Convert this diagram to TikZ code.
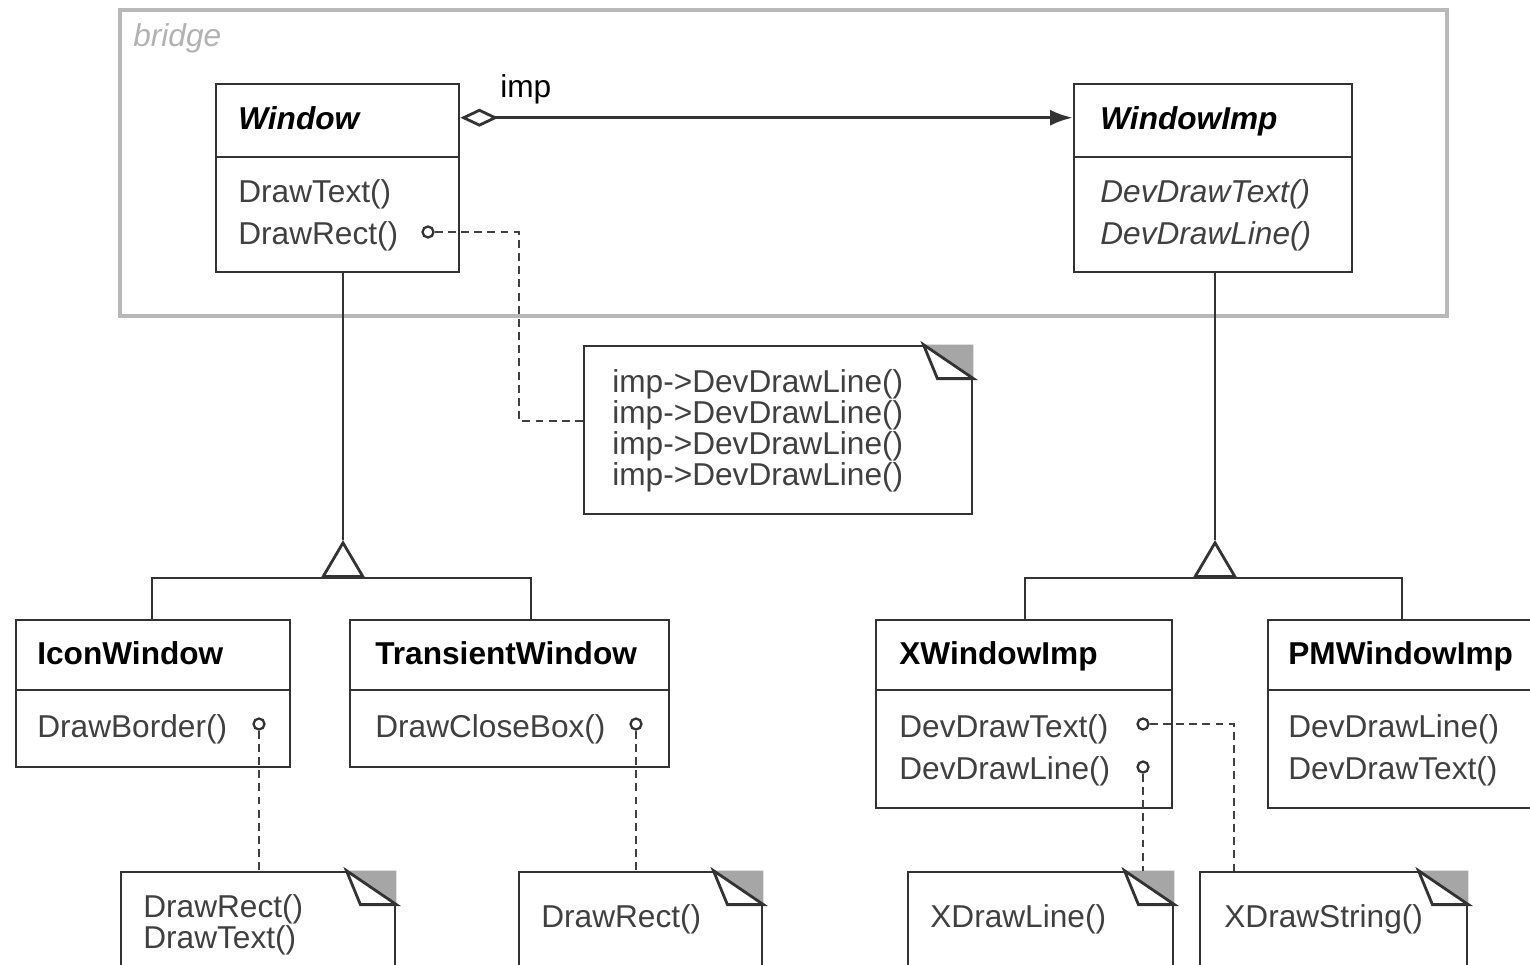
\documentclass[tikz,border=0pt]{standalone}
\usepackage{fontspec}
\setmainfont{Liberation Sans}
\usetikzlibrary{arrows.meta}
\usetikzlibrary{fit}

\tikzset{
  line/.style={draw=black!80, line width=1.6pt},
  cls/.style={line, inner sep=0pt},
  frame/.style={draw=black!28, line width=1.8pt, inner sep=0pt},
  txt/.style={inner sep=0pt, anchor=base west, font=\fontsize{18}{22}\selectfont},
  title/.style={txt, text=black, font=\fontsize{18}{22}\selectfont\bfseries},
  meth/.style={txt, text=black!75},
  knob/.style={circle, draw=black!80, line width=1.3pt, fill=white, minimum size=0.22cm, inner sep=0pt},
  dep/.style={draw=black!75, line width=1.5pt, dash pattern=on 4.5pt off 3pt},
  gen/.style={line, -{Triangle[open, length=0.76cm, width=0.88cm]}},
  agg/.style={line, {Diamond[open, length=0.76cm, width=0.36cm]}-{Latex[length=0.45cm, width=0.32cm]}}
}

\newcommand{\dogear}[1]{%
  \fill[black!35] ([shift={(-50,0)}]#1.north east) -- (#1.north east) -- ([shift={(0,34)}]#1.north east) -- cycle;
  \draw[line, fill=white] ([shift={(-50,0)}]#1.north east) -- ([shift={(-36,34)}]#1.north east) -- ([shift={(0,34)}]#1.north east) -- cycle;}

\begin{document}
\begin{tikzpicture}[x=0.02cm, y=-0.02cm]
  \path[use as bounding box] (0,0) rectangle (1530,964);
  \clip (0,0) rectangle (1530,964);
  \fill[white] (0,0) rectangle (1530,964);

  % bridge frame
  \node[frame, fit={(120,10) (1447,316)}] (bridge) {};
  \node[txt, text=black!30, font=\fontsize{18}{22}\selectfont\itshape] (bridge-l) at (133,46) {bridge};

  % abstraction side
  \node[cls, fit={(216,84) (459,272)}] (win) {};
  \draw[line] (win.west |- 0,157) -- (win.east |- 0,157);
  \node[title, font=\fontsize{18}{22}\selectfont\bfseries\itshape] (win-t) at (238,129) {Window};
  \node[meth] (win-m1) at (238,202) {DrawText()};
  \node[meth] (win-m2) at (238,244) {DrawRect()};
  \node[knob] (k-rect) at (428,232) {};

  % implementor side
  \node[cls, fit={(1074,84) (1352,272)}] (imp) {};
  \draw[line] (imp.west |- 0,157) -- (imp.east |- 0,157);
  \node[title, font=\fontsize{18}{22}\selectfont\bfseries\itshape] (imp-t) at (1100,129) {WindowImp};
  \node[meth, font=\fontsize{18}{22}\selectfont\itshape] (imp-m1) at (1100,202) {DevDrawText()};
  \node[meth, font=\fontsize{18}{22}\selectfont\itshape] (imp-m2) at (1100,244) {DevDrawLine()};

  \draw[agg] (win-t -| win.east) -- (win-t -| imp.west);
  \node[txt] (imp-l) at (500,97) {imp};

  % note of DrawRect
  \node[cls, fit={(584,346) (972,514)}] (nimp) {};
  \dogear{nimp}
  \node[meth] (nimp-1) at (612,392) {imp->DevDrawLine()};
  \node[meth] (nimp-2) at (612,423) {imp->DevDrawLine()};
  \node[meth] (nimp-3) at (612,454) {imp->DevDrawLine()};
  \node[meth] (nimp-4) at (612,485) {imp->DevDrawLine()};
  \coordinate (bend1) at (519,232);
  \draw[dep] (k-rect) -- (bend1) |- ([shift={(0,-9)}]nimp.west);

  % subclasses of Window
  \node[cls, fit={(16,620) (290,767)}] (icon) {};
  \draw[line] (icon.west |- 0,690) -- (icon.east |- 0,690);
  \node[title] (icon-t) at (37,664) {IconWindow};
  \node[meth] (icon-m1) at (37,737) {DrawBorder()};
  \node[knob] (k-border) at (259,724) {};

  \node[cls, fit={(350,620) (669,767)}] (trans) {};
  \draw[line] (trans.west |- 0,690) -- (trans.east |- 0,690);
  \node[title] (trans-t) at (375,664) {TransientWindow};
  \node[meth] (trans-m1) at (375,737) {DrawCloseBox()};
  \node[knob] (k-close) at (636,724) {};

  \coordinate (wapex) at (343,540);
  \coordinate (wbase) at (343,578);
  \coordinate (wl) at (152,578);
  \coordinate (wr) at (531,578);
  \draw[line] (win.south -| wapex) -- (wapex);
  \draw[gen] (wbase) -- (wapex);
  \draw[line] (icon.north -| wl) -- (wl) -- (wr) -- (trans.north -| wr);

  % subclasses of WindowImp
  \node[cls, fit={(876,620) (1172,808)}] (xwin) {};
  \draw[line] (xwin.west |- 0,690) -- (xwin.east |- 0,690);
  \node[title] (xwin-t) at (899,664) {XWindowImp};
  \node[meth] (xwin-m1) at (899,737) {DevDrawText()};
  \node[meth] (xwin-m2) at (899,779) {DevDrawLine()};
  \node[knob] (k-xtext) at (1143,724) {};
  \node[knob] (k-xline) at (1143,767) {};

  \node[cls, fit={(1268,620) (1560,808)}] (pmwin) {};
  \draw[line] (pmwin.west |- 0,690) -- (pmwin.east |- 0,690);
  \node[title] (pmwin-t) at (1288,664) {PMWindowImp};
  \node[meth] (pmwin-m1) at (1288,737) {DevDrawLine()};
  \node[meth] (pmwin-m2) at (1288,779) {DevDrawText()};

  \coordinate (iapex) at (1215,540);
  \coordinate (ibase) at (1215,578);
  \coordinate (il) at (1025,578);
  \coordinate (ir) at (1402,578);
  \draw[line] (imp.south -| iapex) -- (iapex);
  \draw[gen] (ibase) -- (iapex);
  \draw[line] (xwin.north -| il) -- (il) -- (ir) -- (pmwin.north -| ir);

  % bottom notes
  \node[cls, fit={(121,872) (395,1000)}] (nicon) {};
  \dogear{nicon}
  \node[meth] (nicon-1) at (143,917) {DrawRect()};
  \node[meth] (nicon-2) at (143,948) {DrawText()};

  \node[cls, fit={(519,872) (762,1000)}] (ntrans) {};
  \dogear{ntrans}
  \node[meth] (ntrans-1) at (541,927) {DrawRect()};

  \node[cls, fit={(908,872) (1173,1000)}] (nxline) {};
  \dogear{nxline}
  \node[meth] (nxline-1) at (930,927) {XDrawLine()};

  \node[cls, fit={(1200,872) (1467,1000)}] (nxstr) {};
  \dogear{nxstr}
  \node[meth] (nxstr-1) at (1224,927) {XDrawString()};

  \draw[dep] (k-border) -- (k-border |- nicon.north);
  \draw[dep] (k-close) -- (k-close |- ntrans.north);
  \coordinate (bend2) at (1234,724);
  \draw[dep] (k-xtext) -- (bend2) -- (bend2 |- nxstr.north);
  \draw[dep] (k-xline) -- (k-xline |- nxline.north);
\end{tikzpicture}
\end{document}
